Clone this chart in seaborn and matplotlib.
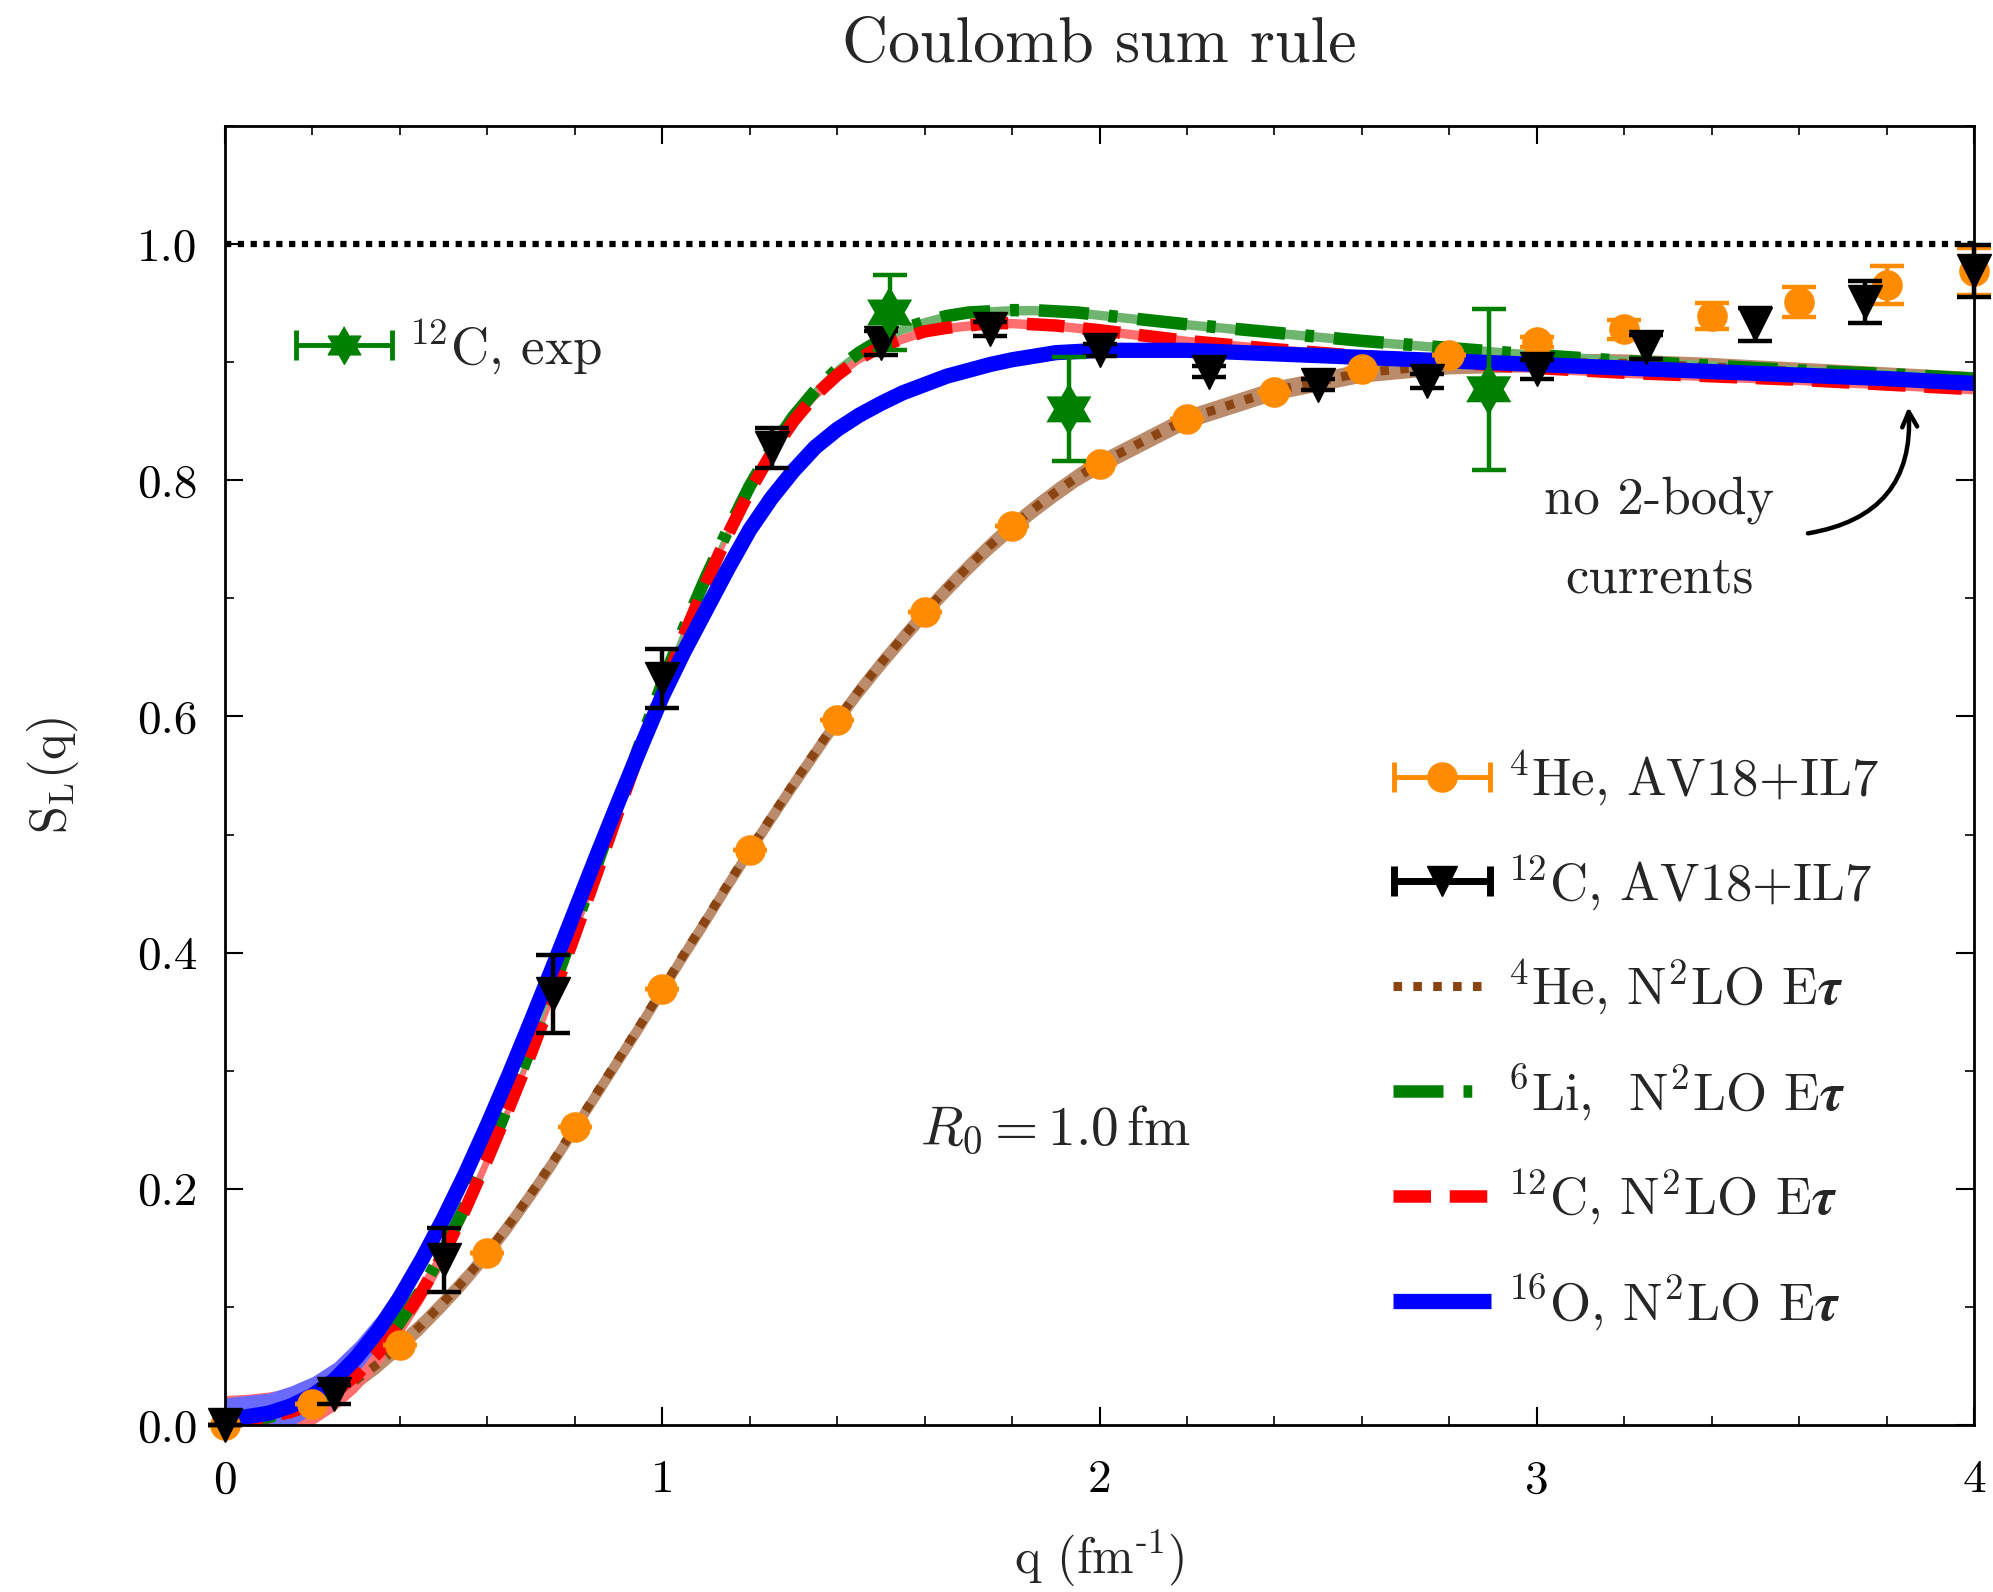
import numpy as np
import pandas as pd
import matplotlib
matplotlib.use("Agg")
import matplotlib.pyplot as plt
import seaborn as sns
from matplotlib.legend_handler import HandlerErrorbar
from matplotlib.container import ErrorbarContainer
from matplotlib.lines import Line2D
from matplotlib.ticker import MultipleLocator
from matplotlib.mathtext import MathTextParser

# ---------------- data ----------------
q_grid = [0.00, 0.05, 0.10, 0.15, 0.20, 0.25, 0.30, 0.35, 0.40, 0.45,
          0.50, 0.55, 0.60, 0.65, 0.70, 0.75, 0.80, 0.85, 0.90, 0.95,
          1.00, 1.05, 1.10, 1.15, 1.20, 1.25, 1.30, 1.35, 1.40, 1.45,
          1.50, 1.55, 1.60, 1.65, 1.70, 1.75, 1.80, 1.85, 1.90, 1.95,
          2.00, 2.20, 2.40, 2.60, 2.80, 3.00, 3.20, 3.40, 3.60, 3.80, 4.00]

s_he4_n2lo = [0.000, 0.001, 0.005, 0.010, 0.018, 0.027, 0.038, 0.052, 0.068, 0.085,
              0.104, 0.124, 0.146, 0.170, 0.196, 0.223, 0.252, 0.281, 0.310, 0.339,
              0.369, 0.399, 0.428, 0.458, 0.487, 0.515, 0.543, 0.570, 0.597, 0.622,
              0.645, 0.667, 0.688, 0.708, 0.727, 0.745, 0.761, 0.776, 0.790, 0.803,
              0.814, 0.852, 0.876, 0.891, 0.898, 0.900, 0.899, 0.896, 0.892, 0.888, 0.884]
band_he4_n2lo = [0.006, 0.006, 0.007, 0.007, 0.008, 0.008, 0.008, 0.008, 0.008, 0.008,
                 0.008, 0.008, 0.008, 0.008, 0.008, 0.008, 0.008, 0.008, 0.008, 0.008,
                 0.008, 0.008, 0.008, 0.008, 0.008, 0.008, 0.008, 0.008, 0.008, 0.008,
                 0.008, 0.008, 0.008, 0.008, 0.008, 0.008, 0.008, 0.008, 0.008, 0.008,
                 0.008, 0.008, 0.008, 0.008, 0.008, 0.008, 0.008, 0.008, 0.008, 0.008, 0.008]

s_li6_n2lo = [0.003, 0.004, 0.007, 0.011, 0.018, 0.028, 0.043, 0.062, 0.087, 0.115,
              0.148, 0.186, 0.228, 0.273, 0.320, 0.370, 0.421, 0.474, 0.526, 0.578,
              0.628, 0.675, 0.718, 0.758, 0.795, 0.827, 0.854, 0.876, 0.894, 0.908,
              0.919, 0.928, 0.934, 0.939, 0.942, 0.943, 0.944, 0.944, 0.943, 0.942,
              0.940, 0.932, 0.925, 0.918, 0.912, 0.906, 0.901, 0.897, 0.893, 0.890, 0.886]
band_li6_n2lo = [0.006, 0.006, 0.006, 0.005, 0.005, 0.005, 0.005, 0.004, 0.004, 0.004,
                 0.004, 0.004, 0.004, 0.004, 0.004, 0.004, 0.004, 0.004, 0.004, 0.004,
                 0.004, 0.004, 0.004, 0.004, 0.004, 0.004, 0.004, 0.004, 0.004, 0.004,
                 0.004, 0.004, 0.004, 0.004, 0.004, 0.004, 0.004, 0.004, 0.004, 0.004,
                 0.004, 0.004, 0.004, 0.004, 0.004, 0.004, 0.004, 0.004, 0.004, 0.004, 0.004]

s_c12_n2lo = [0.003, 0.004, 0.007, 0.011, 0.018, 0.028, 0.042, 0.061, 0.085, 0.113,
              0.145, 0.183, 0.225, 0.269, 0.315, 0.364, 0.415, 0.467, 0.520, 0.572,
              0.622, 0.669, 0.713, 0.754, 0.791, 0.823, 0.850, 0.872, 0.889, 0.903,
              0.913, 0.920, 0.926, 0.929, 0.931, 0.933, 0.933, 0.932, 0.931, 0.929,
              0.927, 0.918, 0.911, 0.905, 0.900, 0.895, 0.891, 0.888, 0.885, 0.881, 0.877]
band_c12_n2lo = [0.022, 0.022, 0.021, 0.020, 0.018, 0.016, 0.014, 0.012, 0.011, 0.010,
                 0.009, 0.008, 0.007, 0.006, 0.005, 0.004, 0.004, 0.004, 0.004, 0.004,
                 0.004, 0.004, 0.004, 0.004, 0.004, 0.004, 0.004, 0.004, 0.004, 0.004,
                 0.004, 0.004, 0.004, 0.004, 0.004, 0.004, 0.004, 0.004, 0.004, 0.004,
                 0.004, 0.004, 0.004, 0.004, 0.004, 0.004, 0.004, 0.004, 0.004, 0.004, 0.004]

s_o16_n2lo = [0.005, 0.007, 0.010, 0.016, 0.025, 0.038, 0.057, 0.080, 0.108, 0.140,
              0.175, 0.213, 0.254, 0.297, 0.342, 0.388, 0.435, 0.482, 0.528, 0.573,
              0.617, 0.655, 0.690, 0.725, 0.758, 0.785, 0.808, 0.828, 0.843, 0.855,
              0.865, 0.874, 0.881, 0.888, 0.893, 0.898, 0.902, 0.905, 0.908, 0.909,
              0.910, 0.910, 0.907, 0.904, 0.901, 0.898, 0.895, 0.892, 0.889, 0.886, 0.882]
band_o16_n2lo = [0.018, 0.018, 0.017, 0.017, 0.016, 0.015, 0.014, 0.013, 0.012, 0.010,
                 0.009, 0.007, 0.006, 0.005, 0.004, 0.004, 0.003, 0.003, 0.003, 0.003,
                 0.003, 0.003, 0.003, 0.003, 0.003, 0.003, 0.003, 0.003, 0.003, 0.003,
                 0.003, 0.003, 0.003, 0.003, 0.003, 0.003, 0.003, 0.003, 0.003, 0.003,
                 0.003, 0.003, 0.003, 0.003, 0.003, 0.003, 0.003, 0.003, 0.003, 0.003, 0.003]

q_he4_av18 = [0.0, 0.2, 0.4, 0.6, 0.8, 1.0, 1.2, 1.4, 1.6, 1.8, 2.0,
              2.2, 2.4, 2.6, 2.8, 3.0, 3.2, 3.4, 3.6, 3.8, 4.0]
s_he4_av18 = [0.000, 0.018, 0.068, 0.146, 0.252, 0.369, 0.487, 0.597, 0.688, 0.761, 0.814,
              0.852, 0.875, 0.894, 0.906, 0.917, 0.928, 0.939, 0.951, 0.965, 0.977]
err_he4_av18 = [0.0, 0.0, 0.0, 0.0, 0.0, 0.0, 0.0, 0.0, 0.0, 0.0, 0.0,
                0.0, 0.0, 0.0, 0.0, 0.004, 0.008, 0.011, 0.013, 0.016, 0.020]

q_c12_av18 = [0.0, 0.25, 0.5, 0.75, 1.0, 1.25, 1.5, 1.75, 2.0,
              2.25, 2.5, 2.75, 3.0, 3.25, 3.5, 3.75, 4.0]
s_c12_av18 = [0.000, 0.026, 0.140, 0.365, 0.632, 0.827, 0.916, 0.928, 0.910,
              0.892, 0.881, 0.884, 0.894, 0.913, 0.932, 0.951, 0.977]
err_c12_av18 = [0.0, 0.008, 0.027, 0.033, 0.025, 0.017, 0.010, 0.006, 0.005,
                0.005, 0.005, 0.006, 0.008, 0.010, 0.014, 0.018, 0.022]

q_c12_exp = [1.52, 1.93, 2.89]
s_c12_exp = [0.942, 0.860, 0.877]
err_c12_exp = [0.032, 0.044, 0.068]

# bold tau if mathtext supports it
tau = r"$\boldsymbol{\tau}$"
try:
    MathTextParser("agg").parse(tau, dpi=100)
except Exception:
    tau = r"$\tau$"

lab_he4_av18 = r"$^{4}$He, AV18+IL7"
lab_c12_av18 = r"$^{12}$C, AV18+IL7"
lab_he4 = r"$^{4}$He, N$^{2}$LO E" + tau
lab_li6 = r"$^{6}$Li,  N$^{2}$LO E" + tau
lab_c12 = r"$^{12}$C, N$^{2}$LO E" + tau
lab_o16 = r"$^{16}$O, N$^{2}$LO E" + tau
lab_exp = r"$^{12}$C, exp"

# ---------------- style ----------------
sns.set_theme(style="ticks")
plt.rcParams.update({
    "font.family": ["cmr10", "DejaVu Serif"],
    "mathtext.fontset": "cm",
    "axes.formatter.use_mathtext": True,
    "axes.unicode_minus": False,
    "axes.linewidth": 2.0,
    "xtick.direction": "in", "ytick.direction": "in",
    "xtick.top": True, "ytick.right": True,
    "xtick.major.size": 13, "ytick.major.size": 13,
    "xtick.minor.size": 6.5, "ytick.minor.size": 6.5,
    "xtick.major.width": 1.5, "ytick.major.width": 1.5,
    "xtick.minor.width": 1.2, "ytick.minor.width": 1.2,
    "xtick.color": "black", "ytick.color": "black",
    "axes.edgecolor": "black",
})

fig = plt.figure(figsize=(19.93, 15.92), dpi=100)
ax = fig.add_axes([0.1129, 0.1049, 0.8776, 0.8160])

# hexagram marker (style only)
ang = np.deg2rad(90 + 30 * np.arange(12))
rad = np.where(np.arange(12) % 2 == 0, 1.0, 1 / np.sqrt(3))
hexagram = list(zip(rad * np.cos(ang), rad * np.sin(ang)))

qg = np.array(q_grid)
curves = [
    (s_he4_n2lo, band_he4_n2lo, "#8b4513", "#bb8c6b", 6.5, (0, (0.95, 1.25)), 3, 2.0),
    (s_li6_n2lo, band_li6_n2lo, "#008000", "#6fb56f", 9.0, (0, (4.0, 1.6, 0.7, 1.6)), 4, 2.1),
    (s_c12_n2lo, band_c12_n2lo, "#ff0000", "#ff6f6f", 9.0, (0, (3.0, 1.5)), 5, 2.2),
    (s_o16_n2lo, band_o16_n2lo, "#0000ff", "#6a6aff", 11.0, "-", 6, 2.3),
]
for yv, bw, col, bcol, lw, ls, z, bz in curves:
    yv = np.array(yv); bw = np.array(bw)
    ax.fill_between(qg, yv - bw, yv + bw, color=bcol, lw=0, zorder=bz)
line_handles = []
for yv, bw, col, bcol, lw, ls, z, bz in curves:
    sns.lineplot(x=q_grid, y=yv, ax=ax, color=col, linewidth=lw, linestyle=ls,
                 sort=False, estimator=None, zorder=z)
    ln = ax.lines[-1]
    ln.set_dash_capstyle("butt")
    ln.set_solid_capstyle("butt")
    line_handles.append(ln)

ax.axhline(1.0, color="black", lw=4.5, linestyle=(0, (1.0, 1.05)), zorder=2)

# points
ax.errorbar(q_he4_av18, s_he4_av18, yerr=err_he4_av18, fmt="o", color="#ff8c00",
            ms=21, mec="#ff8c00", elinewidth=3.2, capsize=12, capthick=3.2, zorder=8, clip_on=False)
ax.errorbar(q_c12_av18, s_c12_av18, yerr=err_c12_av18, fmt="v", color="black",
            ms=24, mec="black", elinewidth=3.2, capsize=12, capthick=3.2, zorder=9, clip_on=False)
ax.errorbar(q_c12_exp, s_c12_exp, yerr=err_c12_exp, fmt="none", ecolor="#008000",
            elinewidth=3.2, capsize=12, capthick=3.2, zorder=9)
sns.scatterplot(x=q_c12_exp, y=s_c12_exp, ax=ax, marker=hexagram, s=1400,
                color="#008000", edgecolor="none", zorder=10)

# legend proxies: errorbars with horizontal bars placed outside the visible range
h_he4 = ax.errorbar([-10], [-10], xerr=[0.1], fmt="o", color="#ff8c00", ms=21,
                    elinewidth=3.5, capsize=11, capthick=3.5)
h_c12 = ax.errorbar([-10], [-10], xerr=[0.1], fmt="v", color="black", ms=22,
                    elinewidth=5.0, capsize=11, capthick=5.0)
h_exp = ax.errorbar([-10], [-10], xerr=[0.1], fmt="none", ecolor="#008000",
                    elinewidth=3.5, capsize=11, capthick=3.5)

ax.set_xlim(0, 4)
ax.set_ylim(0, 1.1)
ax.xaxis.set_minor_locator(MultipleLocator(0.2))
ax.yaxis.set_minor_locator(MultipleLocator(0.1))
ax.set_yticks([0.0, 0.2, 0.4, 0.6, 0.8, 1.0])
ax.set_yticklabels(["0.0", "0.2", "0.4", "0.6", "0.8", "1.0"])
ax.set_xticks([0, 1, 2, 3, 4])
ax.set_xticklabels(["0", "1", "2", "3", "4"])
ax.tick_params(axis="x", which="major", labelsize=34, pad=25)
ax.tick_params(axis="y", which="major", labelsize=34, pad=20)
for sp in ax.spines.values():
    sp.set_visible(True)
    sp.set_linewidth(2.0)
    sp.set_zorder(20)

ax.set_title("Coulomb sum rule", fontsize=46, pad=46)
ax.set_xlabel(r"q (fm$^{\text{-1}}$)", fontsize=36, labelpad=20)
ax.set_ylabel(r"S$_{\mathrm{L}}$(q)", fontsize=36, labelpad=40)

hl = 1.85
hmap = {ErrorbarContainer: HandlerErrorbar(xerr_size=hl / 2 * 0.98)}
leg1 = ax.legend([h_he4, h_c12] + line_handles,
                 [lab_he4_av18, lab_c12_av18, lab_he4, lab_li6, lab_c12, lab_o16],
                 loc="center left", bbox_to_anchor=(0.668, 0.296), frameon=False,
                 fontsize=38, handlelength=hl, handletextpad=0.3, labelspacing=0.85,
                 borderpad=0, borderaxespad=0, handler_map=hmap)
ax.add_artist(leg1)

star_proxy = Line2D([], [], marker=hexagram, ms=27, color="#008000", ls="none")
leg2 = ax.legend([(h_exp, star_proxy)], [lab_exp], loc="center left",
                 bbox_to_anchor=(0.040, 0.830), frameon=False, fontsize=38,
                 handlelength=hl, handletextpad=0.3, borderpad=0, borderaxespad=0,
                 handler_map=hmap)

ax.text(1.9, 0.25, r"$R_0 = 1.0\,\mathrm{fm}$", fontsize=40, ha="center", va="center")
ax.text(3.28, 0.75, "no 2-body\ncurrents", fontsize=38, ha="center", va="center",
        linespacing=1.88)
ax.annotate("", xy=(3.85, 0.862), xytext=(3.62, 0.755),
            arrowprops=dict(arrowstyle="->,head_length=0.9,head_width=0.45", lw=3.2,
                            color="black", connectionstyle="arc3,rad=0.45",
                            shrinkA=0, shrinkB=0))

ax.set_xlim(0, 4)
ax.set_ylim(0, 1.1)
fig.savefig("out.png", dpi=100)
